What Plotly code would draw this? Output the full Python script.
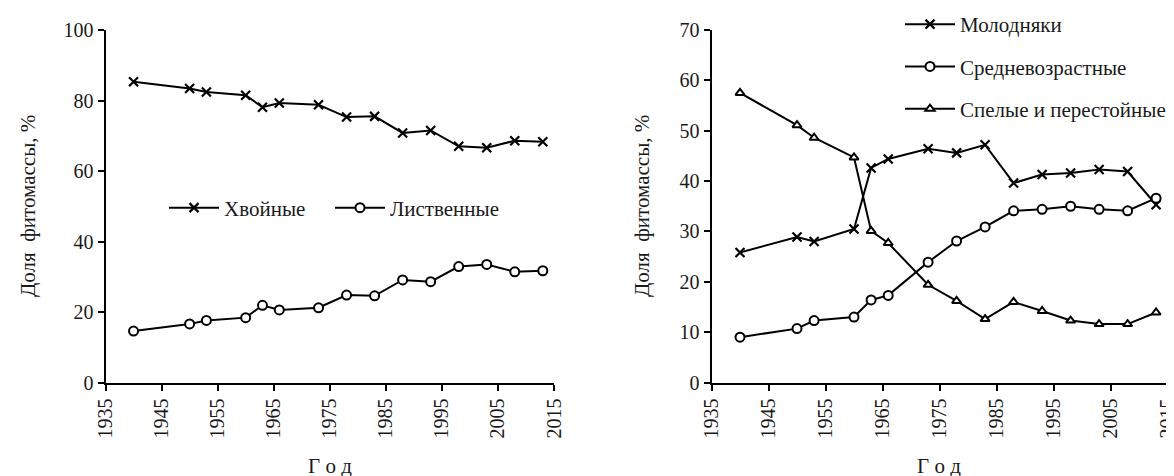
import plotly.graph_objects as go
from plotly.subplots import make_subplots

# -------------------- Data --------------------

years = [1940, 1950, 1953, 1960, 1963, 1966, 1973, 1978, 1983, 1988, 1993, 1998, 2003, 2008, 2013]

# left panel: species share, %
conifers = [85.3, 83.4, 82.4, 81.5, 78.1, 79.3, 78.8, 75.3, 75.5, 70.8, 71.5, 67.0, 66.6, 68.6, 68.3]
deciduous = [14.6, 16.6, 17.6, 18.4, 21.9, 20.6, 21.2, 24.8, 24.6, 29.1, 28.6, 32.9, 33.5, 31.4, 31.7]

# right panel: age groups share, %
young = [25.8, 28.9, 28.0, 30.5, 42.6, 44.4, 46.4, 45.6, 47.2, 39.6, 41.3, 41.6, 42.3, 41.9, 35.3]
middle = [9.0, 10.7, 12.3, 13.0, 16.4, 17.3, 23.9, 28.1, 30.9, 34.1, 34.4, 35.0, 34.4, 34.1, 36.6]
mature = [57.5, 51.1, 48.6, 44.7, 30.1, 27.7, 19.4, 16.2, 12.6, 16.0, 14.2, 12.3, 11.6, 11.6, 13.9]

x_ticks = [1935, 1945, 1955, 1965, 1975, 1985, 1995, 2005, 2015]

FONT = "Liberation Serif, Times New Roman, serif"
TXT = "#1a1a1a"
FS = 20      # tick labels
FS_T = 21    # titles and legends
W, H = 1174, 476

fig = make_subplots(rows=1, cols=2)

# -------------------- Traces --------------------

def marker(symbol, size=9):
    if symbol == "x":
        return dict(symbol="x-thin-open", size=size, color="black", line=dict(color="black", width=2.2))
    return dict(symbol=symbol, size=size, color="white", line=dict(color="black", width=2))

# left legend entries are spaced via per-trace legendwidth
left_series = [("Хвойные", conifers, "x", 101), ("Лиственные", deciduous, "circle", 130)]
for name, vals, sym, lw in left_series:
    fig.add_trace(go.Scatter(x=years, y=vals, name=name, mode="lines+markers",
                             line=dict(color="black", width=2), marker=marker(sym),
                             legend="legend", legendwidth=lw), row=1, col=1)

right_series = [("Молодняки", young, "x"), ("Средневозрастные", middle, "circle"),
                ("Спелые и перестойные", mature, "triangle-up")]
for i, (name, vals, sym) in enumerate(right_series):
    fig.add_trace(go.Scatter(x=years, y=vals, name=name, mode="lines+markers",
                             line=dict(color="black", width=2),
                             marker=marker(sym, 8 if sym == "triangle-up" else 9),
                             legend="legend2", legendgroup=f"g{i}"), row=1, col=2)

# -------------------- Axes --------------------

axis_common = dict(showline=True, linecolor="black", linewidth=2, ticks="outside",
                   tickcolor="black", tickwidth=2, ticklen=6, showgrid=False, zeroline=False,
                   automargin=False, tickfont=dict(family=FONT, size=FS, color=TXT))

y_top = 1 - 22 / H
y_bot = 1 - 374.5 / H

fig.update_xaxes(**axis_common, range=[1935, 2015], tickvals=x_ticks, tickangle=-90)
fig.update_yaxes(**axis_common)

fig.update_xaxes(domain=[97.5 / W, 546 / W], row=1, col=1)
fig.update_xaxes(domain=[703.5 / W, 1159.5 / W], row=1, col=2)
fig.update_yaxes(domain=[y_bot, y_top], range=[0, 100], tickvals=[0, 20, 40, 60, 80, 100], row=1, col=1)
fig.update_yaxes(domain=[y_bot, y_top], range=[0, 70], tickvals=[0, 10, 20, 30, 40, 50, 60, 70], row=1, col=2)

# axis titles as paper annotations (exact placement)
title_font = dict(family=FONT, size=FS_T, color=TXT)
y_mid = 1 - 198 / H
for xc in (20, 634):
    fig.add_annotation(x=xc / W, y=y_mid, xref="paper", yref="paper", text="Доля  фитомассы, %",
                       textangle=-90, showarrow=False, font=title_font,
                       xanchor="center", yanchor="middle")
for xc in (322, 931):
    fig.add_annotation(x=xc / W, y=1 - 458 / H, xref="paper", yref="paper", text="Г о д",
                       showarrow=False, font=title_font, xanchor="center", yanchor="middle")

# -------------------- Layout --------------------

legend_font = dict(family=FONT, size=FS_T, color=TXT)
fig.update_layout(
    width=W, height=H,
    margin=dict(l=0, r=0, t=0, b=0, autoexpand=False),
    plot_bgcolor="white", paper_bgcolor="white",
    font=dict(family=FONT, size=FS, color=TXT),
    legend=dict(orientation="h", x=156 / W, y=1 - 200 / H, xanchor="left", yanchor="middle",
                bgcolor="rgba(0,0,0,0)", font=legend_font,
                itemwidth=50, entrywidthmode="pixels"),
    legend2=dict(orientation="v", x=892 / W, y=1 + 4 / H, xanchor="left", yanchor="top",
                 bgcolor="rgba(0,0,0,0)", font=legend_font, itemwidth=50,
                 tracegroupgap=12),
)

fig.write_html("out.html")
